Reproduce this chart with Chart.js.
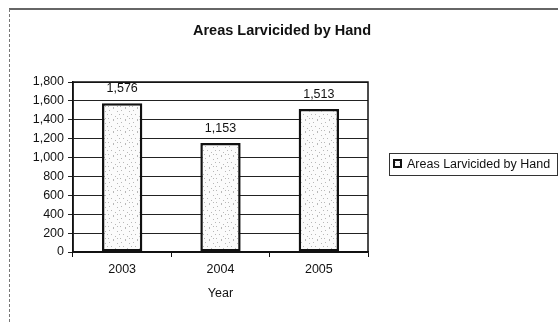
<!DOCTYPE html>
<html>
<head>
<meta charset="utf-8">
<script src="https://cdn.jsdelivr.net/npm/chart.js@4.4.0/dist/chart.umd.min.js"></script>
<style>
  html, body { margin: 0; padding: 0; background: #fff; }
  #wrap { position: relative; width: 558px; height: 322px; }
</style>
</head>
<body>
<div id="wrap"><canvas id="larv-chart" width="558" height="322"></canvas></div>
<script>
const years = ['2003', '2004', '2005'];
const areas = [1576, 1153, 1513];
const yTicks = [0, 200, 400, 600, 800, 1000, 1200, 1400, 1600, 1800];
const seriesName = 'Areas Larvicided by Hand';
const chartTitle = 'Areas Larvicided by Hand';
const xTitle = 'Year';

const FONT = 'Arial, "Liberation Sans", sans-serif';

// stippled fill for the bars (fixed dot layout)
function makeStipple() {
    const c = document.createElement('canvas');
    c.width = 12; c.height = 12;
    const g = c.getContext('2d');
    g.fillStyle = '#fbfbfb';
    g.fillRect(0, 0, 12, 12);
    g.fillStyle = '#b8b8b8';
    [[1, 2], [5, 0], [9, 3], [3, 6], [7, 8], [11, 6], [0, 10], [5, 11], [9, 10]].forEach(p => g.fillRect(p[0], p[1], 1, 1));
    return g.createPattern(c, 'repeat');
}

const fmt = v => v.toLocaleString('en-US');

// title, frame around plot area, value labels, boxed legend and outer page edge
const extras = {
    id: 'extras',
    afterDatasetsDraw(chart) {
        const ctx = chart.ctx;
        const a = chart.chartArea;
        ctx.save();

        ctx.fillStyle = '#111';
        ctx.font = 'bold 14.5px ' + FONT;
        ctx.textAlign = 'center';
        ctx.textBaseline = 'middle';
        ctx.fillText(chartTitle, 282, 31);

        ctx.strokeStyle = '#111';
        ctx.lineWidth = 1.5;
        ctx.strokeRect(a.left, a.top, a.right - a.left, a.bottom - a.top);

        ctx.font = '12.5px ' + FONT;
        ctx.textBaseline = 'bottom';
        chart.getDatasetMeta(0).data.forEach((bar, i) => {
            ctx.fillText(fmt(areas[i]), bar.x, bar.y - 8);
        });

        // legend box
        ctx.lineWidth = 1;
        ctx.strokeStyle = '#333';
        ctx.strokeRect(389.5, 153.5, 168, 22);
        ctx.fillStyle = chart.data.datasets[0].backgroundColor;
        ctx.fillRect(394, 160, 7, 7);
        ctx.lineWidth = 2;
        ctx.strokeStyle = '#111';
        ctx.strokeRect(394, 160, 7, 7);
        ctx.fillStyle = '#111';
        ctx.font = '12.5px ' + FONT;
        ctx.textAlign = 'left';
        ctx.textBaseline = 'middle';
        ctx.fillText(seriesName, 407, 164.5);

        // page edge
        ctx.lineWidth = 1.5;
        ctx.strokeStyle = '#333';
        ctx.beginPath();
        ctx.moveTo(9, 9); ctx.lineTo(558, 9);
        ctx.stroke();
        ctx.lineWidth = 1;
        ctx.strokeStyle = '#777';
        ctx.setLineDash([3, 2]);
        ctx.beginPath();
        ctx.moveTo(9.5, 9); ctx.lineTo(9.5, 322);
        ctx.stroke();
        ctx.restore();
    }
};

const ctx = document.getElementById('larv-chart').getContext('2d');
new Chart(ctx, {
    type: 'bar',
    data: {
        labels: years,
        datasets: [{
            label: seriesName,
            data: areas,
            backgroundColor: makeStipple(),
            borderColor: '#111',
            borderWidth: 2.5,
            borderSkipped: false,
            barPercentage: 0.41,
            categoryPercentage: 1.0
        }]
    },
    options: {
        responsive: false,
        animation: false,
        devicePixelRatio: 1,
        layout: { padding: { left: 10, right: 190, top: 82, bottom: 21 } },
        plugins: {
            legend: { display: false },
            tooltip: { enabled: false },
            title: { display: false }
        },
        scales: {
            x: {
                offset: true,
                grid: { offset: true, drawOnChartArea: false, drawTicks: true, tickLength: 5, color: '#111' },
                border: { color: '#111', width: 1.5 },
                ticks: { color: '#111', padding: 5, font: { family: FONT, size: 12.5 } },
                title: { display: true, text: xTitle, color: '#111', padding: { top: 4, bottom: 0 },
                         font: { family: FONT, size: 12.5 } }
            },
            y: {
                min: 0,
                max: 1800,
                afterBuildTicks: axis => { axis.ticks = yTicks.map(v => ({ value: v })); },
                afterFit: axis => { axis.width = 63; },
                grid: { color: '#222', lineWidth: 1, tickLength: 5 },
                border: { color: '#111', width: 1.5 },
                ticks: { color: '#111', padding: 4, callback: v => fmt(v),
                         font: { family: FONT, size: 12.5 } }
            }
        }
    },
    plugins: [extras]
});
</script>
</body>
</html>
